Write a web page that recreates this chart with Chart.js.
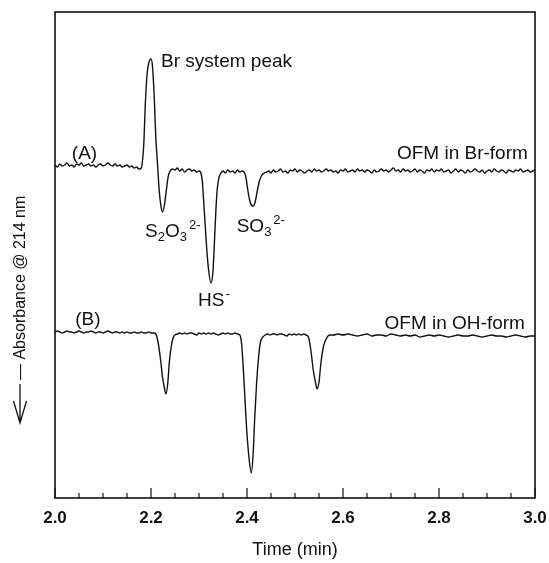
<!DOCTYPE html>
<html>
<head>
<meta charset="utf-8">
<title>Absorbance @ 214 nm</title>
<script src="https://cdn.jsdelivr.net/npm/chart.js@4.4.1/dist/chart.umd.min.js"></script>
<style>
  html, body { margin: 0; padding: 0; background: #fff; }
  #wrap { width: 549px; height: 563px; }
</style>
</head>
<body>
<div id="wrap"><canvas id="chart" width="549" height="563"></canvas></div>
<script>
const FONT = '"Liberation Sans", Arial, Helvetica, sans-serif';

// x axis ticks (min)
const majorTicks = [2.0, 2.2, 2.4, 2.6, 2.8, 3.0];
const tickLabels = ['2.0', '2.2', '2.4', '2.6', '2.8', '3.0'];

// trace (A): OFM in Br-form
const timeA = [
  2.000, 2.005, 2.010, 2.015, 2.020, 2.025, 2.030, 2.035, 2.040, 2.045,
  2.050, 2.055, 2.060, 2.065, 2.070, 2.075, 2.080, 2.085, 2.090, 2.095,
  2.100, 2.105, 2.110, 2.115, 2.120, 2.125, 2.130, 2.135, 2.140, 2.145,
  2.150, 2.155, 2.160, 2.165, 2.170, 2.175, 2.180,
  2.182, 2.185, 2.188, 2.192, 2.196, 2.200, 2.203, 2.207, 2.210, 2.214,
  2.217, 2.221, 2.224, 2.228, 2.232, 2.236, 2.240, 2.245, 2.250,
  2.255, 2.260, 2.265, 2.270, 2.275, 2.280, 2.285, 2.290, 2.295, 2.300, 2.304,
  2.307, 2.310, 2.313, 2.316, 2.320, 2.325, 2.329, 2.332, 2.335, 2.338, 2.342, 2.346, 2.350,
  2.355, 2.360, 2.365, 2.370, 2.375, 2.380, 2.385, 2.390, 2.395,
  2.398, 2.401, 2.405, 2.409, 2.413, 2.417, 2.421, 2.426, 2.431, 2.436, 2.441,
  2.445, 2.450, 2.455, 2.460, 2.465, 2.470, 2.475, 2.480, 2.485, 2.490,
  2.495, 2.500, 2.505, 2.510, 2.515, 2.520, 2.525, 2.530, 2.535, 2.540,
  2.545, 2.550, 2.555, 2.560, 2.565, 2.570, 2.575, 2.580, 2.585, 2.590,
  2.595, 2.600, 2.605, 2.610, 2.615, 2.620, 2.625, 2.630, 2.635, 2.640,
  2.645, 2.650, 2.655, 2.660, 2.665, 2.670, 2.675, 2.680, 2.685, 2.690,
  2.695, 2.700, 2.705, 2.710, 2.715, 2.720, 2.725, 2.730, 2.735, 2.740,
  2.745, 2.750, 2.755, 2.760, 2.765, 2.770, 2.775, 2.780, 2.785, 2.790,
  2.795, 2.800, 2.805, 2.810, 2.815, 2.820, 2.825, 2.830, 2.835, 2.840,
  2.845, 2.850, 2.855, 2.860, 2.865, 2.870, 2.875, 2.880, 2.885, 2.890,
  2.895, 2.900, 2.905, 2.910, 2.915, 2.920, 2.925, 2.930, 2.935, 2.940,
  2.945, 2.950, 2.955, 2.960, 2.965, 2.970, 2.975, 2.980, 2.985, 2.990,
  2.995, 3.000
];
const absorbanceA = [
  33.3, 33.1, 33.4, 33.2, 33.3, 33.5, 33.2, 33.3, 33.1, 33.4,
  33.3, 33.5, 33.2, 33.3, 33.4, 33.2, 33.3, 33.1, 33.3, 33.4,
  33.2, 33.3, 33.5, 33.3, 33.2, 33.4, 33.2, 33.3, 33.1, 33.2,
  33.3, 33.1, 33.2, 33.0, 33.1, 32.9, 33.0,
  33.6, 35.4, 39.2, 42.5, 43.6, 43.9, 43.2, 39.8, 36.1, 33.1,
  30.8, 29.1, 28.6, 29.3, 30.8, 32.2, 32.7, 32.9, 32.8,
  33.0, 32.7, 32.9, 32.6, 32.8, 32.9, 32.7, 32.8, 32.6, 32.7, 32.5,
  31.6, 29.5, 27.2, 25.0, 22.8, 21.5, 22.6, 25.4, 28.6, 30.9, 32.1, 32.5, 32.7,
  32.5, 32.8, 32.6, 32.7, 32.5, 32.8, 32.6, 32.7, 32.5,
  32.0, 31.0, 29.9, 29.3, 29.2, 29.6, 30.6, 31.7, 32.3, 32.5, 32.6,
  32.7, 32.5, 32.8, 32.6, 32.7, 32.9, 32.6, 32.7, 32.5, 32.8,
  32.7, 32.9, 32.6, 32.8, 32.7, 32.5, 32.7, 32.8, 32.6, 32.9,
  32.7, 32.8, 32.6, 32.7, 32.9, 32.7, 32.8, 32.6, 32.7, 32.5,
  32.8, 32.7, 32.9, 32.6, 32.7, 32.8, 32.6, 32.9, 32.7, 32.8,
  32.6, 32.8, 32.7, 32.5, 32.8, 32.6, 32.7, 32.9, 32.7, 32.8,
  32.6, 32.8, 33.0, 32.7, 32.8, 32.6, 32.9, 32.7, 32.8, 32.6,
  32.7, 32.9, 32.6, 32.8, 32.7, 32.5, 32.8, 32.7, 32.9, 32.6,
  32.8, 32.7, 32.9, 32.6, 32.7, 32.8, 32.5, 32.7, 32.9, 32.6,
  32.8, 32.7, 32.5, 32.8, 32.6, 32.7, 32.9, 32.7, 32.6, 32.8,
  32.5, 32.7, 32.8, 32.6, 32.9, 32.7, 32.6, 32.8, 32.7, 32.5,
  32.8, 32.7, 32.6, 32.8, 32.7, 32.9, 32.6, 32.7, 32.8, 32.6,
  32.7, 32.8
];

// trace (B): OFM in OH-form
const timeB = [
  2.000, 2.005, 2.010, 2.015, 2.020, 2.025, 2.030, 2.035, 2.040, 2.045,
  2.050, 2.055, 2.060, 2.065, 2.070, 2.075, 2.080, 2.085, 2.090, 2.095,
  2.100, 2.105, 2.110, 2.115, 2.120, 2.125, 2.130, 2.135, 2.140, 2.145,
  2.150, 2.155, 2.160, 2.165, 2.170, 2.175, 2.180, 2.185, 2.190, 2.195,
  2.200, 2.205,
  2.210, 2.215, 2.220, 2.224, 2.228, 2.231, 2.235, 2.238, 2.242, 2.246, 2.250, 2.255,
  2.260, 2.265, 2.270, 2.275, 2.280, 2.285, 2.290, 2.295, 2.300, 2.305,
  2.310, 2.315, 2.320, 2.325, 2.330, 2.335, 2.340, 2.345, 2.350, 2.355,
  2.360, 2.365, 2.370, 2.375, 2.380, 2.385,
  2.389, 2.392, 2.395, 2.399, 2.404, 2.409, 2.413, 2.416, 2.420, 2.424, 2.428, 2.433, 2.438,
  2.443, 2.448, 2.453, 2.458, 2.463, 2.468, 2.473, 2.478, 2.483, 2.488,
  2.493, 2.498, 2.503, 2.508, 2.513, 2.518, 2.523,
  2.528, 2.533, 2.538, 2.543, 2.546, 2.550, 2.554, 2.559, 2.566, 2.572,
  2.580, 2.590, 2.600, 2.610, 2.620, 2.630, 2.640, 2.650, 2.660, 2.670,
  2.680, 2.690, 2.700, 2.710, 2.720, 2.730, 2.740, 2.750, 2.760, 2.770,
  2.780, 2.790, 2.800, 2.810, 2.820, 2.830, 2.840, 2.850, 2.860, 2.870,
  2.880, 2.890, 2.900, 2.910, 2.920, 2.930, 2.940, 2.950, 2.960, 2.970,
  2.980, 2.990, 3.000
];
const absorbanceB = [
  16.6, 16.7, 16.6, 16.5, 16.6, 16.7, 16.6, 16.6, 16.5, 16.6,
  16.7, 16.6, 16.5, 16.6, 16.6, 16.7, 16.6, 16.5, 16.6, 16.6,
  16.5, 16.6, 16.7, 16.6, 16.5, 16.6, 16.6, 16.5, 16.6, 16.5,
  16.6, 16.5, 16.5, 16.6, 16.5, 16.5, 16.6, 16.5, 16.5, 16.6,
  16.5, 16.5,
  16.4, 15.5, 13.8, 12.1, 11.0, 10.4, 11.5, 13.5, 15.1, 16.0, 16.3, 16.4,
  16.5, 16.4, 16.5, 16.4, 16.5, 16.5, 16.4, 16.3, 16.5, 16.4,
  16.5, 16.4, 16.5, 16.4, 16.5, 16.4, 16.3, 16.4, 16.5, 16.4,
  16.5, 16.4, 16.4, 16.5, 16.4, 16.3,
  15.3, 13.2, 10.6, 7.1, 4.1, 2.5, 4.6, 7.9, 11.5, 14.0, 15.6, 16.1, 16.3,
  16.4, 16.3, 16.4, 16.4, 16.3, 16.4, 16.4, 16.3, 16.2, 16.4,
  16.3, 16.4, 16.3, 16.4, 16.3, 16.4, 16.3,
  16.1, 14.8, 12.8, 11.5, 10.9, 11.6, 13.5, 15.1, 16.0, 16.3,
  16.3, 16.4, 16.3, 16.4, 16.3, 16.2, 16.3, 16.4, 16.2, 16.3,
  16.3, 16.2, 16.4, 16.3, 16.2, 16.3, 16.2, 16.3, 16.1, 16.2,
  16.3, 16.2, 16.3, 16.2, 16.1, 16.2, 16.3, 16.2, 16.2, 16.3,
  16.2, 16.1, 16.2, 16.3, 16.2, 16.2, 16.1, 16.2, 16.3, 16.2,
  16.1, 16.2, 16.2
];

// text placed at (time, absorbance) positions; runs carry sub/superscripts
const chartLabels = [
  { t: 2.221, v: 43.8, align: 'left',  runs: [{ text: 'Br system peak' }] },
  { t: 2.035, v: 34.6, align: 'left',  runs: [{ text: '(A)' }] },
  { t: 2.985, v: 34.6, align: 'right', runs: [{ text: 'OFM in Br-form' }] },
  { t: 2.042, v: 18.0, align: 'left',  runs: [{ text: '(B)' }] },
  { t: 2.979, v: 17.6, align: 'right', runs: [{ text: 'OFM in OH-form' }] },
  { t: 2.1875, v: 26.8, align: 'left', runs: [
      { text: 'S' }, { text: '2', sub: true }, { text: 'O' }, { text: '3', sub: true },
      { text: '2-', sup: true, gap: 2 }] },
  { t: 2.3785, v: 27.3, align: 'left', runs: [
      { text: 'SO' }, { text: '3', sub: true }, { text: '2-', sup: true, gap: 2 }] },
  { t: 2.298, v: 19.9, align: 'left', runs: [{ text: 'HS' }, { text: '-', sup: true, gap: 1 }] }
];

const yTitle = '\u2014 Absorbance @ 214 nm';

function runFont(r) {
  return (r.sub || r.sup ? 13 : 19) + 'px ' + FONT;
}

function drawRuns(ctx, item, px, py) {
  // py is the middle of capitals; move to the baseline
  const base = py + 7;
  let total = 0;
  item.runs.forEach(r => {
    ctx.font = runFont(r);
    total += ctx.measureText(r.text).width + (r.gap || 0);
  });
  let x = item.align === 'right' ? px - total : px;
  item.runs.forEach(r => {
    ctx.font = runFont(r);
    x += r.gap || 0;
    const dy = r.sub ? 4 : (r.sup ? -8 : 0);
    ctx.fillText(r.text, x, base + dy);
    x += ctx.measureText(r.text).width;
  });
}

const decorations = {
  id: 'decorations',
  afterDraw(chart) {
    const ctx = chart.ctx;
    const area = chart.chartArea;
    const xs = chart.scales.x;
    const ys = chart.scales.y;

    ctx.save();
    ctx.strokeStyle = '#111';
    ctx.fillStyle = '#111';

    // frame
    ctx.lineWidth = 1.6;
    ctx.strokeRect(area.left, area.top, area.right - area.left, area.bottom - area.top);

    // inward tick marks on the time axis
    ctx.lineWidth = 1.2;
    xs.ticks.forEach(tk => {
      const x = xs.getPixelForValue(tk.value);
      const major = majorTicks.some(m => Math.abs(m - tk.value) < 1e-6);
      ctx.beginPath();
      ctx.moveTo(x, area.bottom);
      ctx.lineTo(x, area.bottom - (major ? 10 : 5));
      ctx.stroke();
    });

    // peak and trace labels
    ctx.textAlign = 'left';
    ctx.textBaseline = 'alphabetic';
    chartLabels.forEach(item => {
      drawRuns(ctx, item, xs.getPixelForValue(item.t), ys.getPixelForValue(item.v));
    });

    // rotated y title with downward arrow
    ctx.save();
    ctx.translate(21, 380);
    ctx.rotate(-Math.PI / 2);
    ctx.font = '16px ' + FONT;
    ctx.textBaseline = 'middle';
    ctx.fillText(yTitle, 0, 0);
    ctx.restore();

    ctx.lineWidth = 1.3;
    ctx.beginPath();
    ctx.moveTo(20, 384);
    ctx.lineTo(20, 423);
    ctx.moveTo(13.5, 401);
    ctx.lineTo(20, 423);
    ctx.lineTo(26.5, 401);
    ctx.stroke();

    ctx.restore();
  }
};

function toPoints(times, values) {
  return times.map((t, i) => ({ x: t, y: values[i] }));
}

function renderChart() {
  const ctx = document.getElementById('chart').getContext('2d');
  new Chart(ctx, {
    type: 'line',
    data: {
      datasets: [
        {
          label: 'OFM in Br-form',
          data: toPoints(timeA, absorbanceA),
          borderColor: '#111',
          borderWidth: 1.4,
          pointRadius: 0,
          fill: false,
          cubicInterpolationMode: 'monotone'
        },
        {
          label: 'OFM in OH-form',
          data: toPoints(timeB, absorbanceB),
          borderColor: '#111',
          borderWidth: 1.4,
          pointRadius: 0,
          fill: false,
          cubicInterpolationMode: 'monotone'
        }
      ]
    },
    options: {
      responsive: false,
      animation: false,
      layout: { padding: { left: 55, right: 14, top: 12, bottom: 0 } },
      plugins: {
        legend: { display: false },
        tooltip: { enabled: false }
      },
      scales: {
        x: {
          type: 'linear',
          min: 2.0,
          max: 3.0,
          afterFit: (scale) => {
            scale.height = 65;
            scale.paddingLeft = 0;
            scale.paddingRight = 0;
          },
          grid: { display: false, drawTicks: false },
          border: { display: false },
          ticks: {
            stepSize: 0.05,
            autoSkip: false,
            maxRotation: 0,
            padding: 10,
            color: '#111',
            font: { family: FONT, size: 17, weight: 'bold' },
            callback: (value) => {
              const i = majorTicks.findIndex(m => Math.abs(m - value) < 1e-6);
              return i >= 0 ? tickLabels[i] : '';
            }
          },
          title: {
            display: true,
            text: 'Time (min)',
            color: '#111',
            font: { family: FONT, size: 18 },
            padding: { top: 0, bottom: 2 }
          }
        },
        y: {
          display: false,
          min: 0,
          max: 48.6
        }
      }
    },
    plugins: [decorations]
  });
}

document.addEventListener('DOMContentLoaded', renderChart);
</script>
</body>
</html>
